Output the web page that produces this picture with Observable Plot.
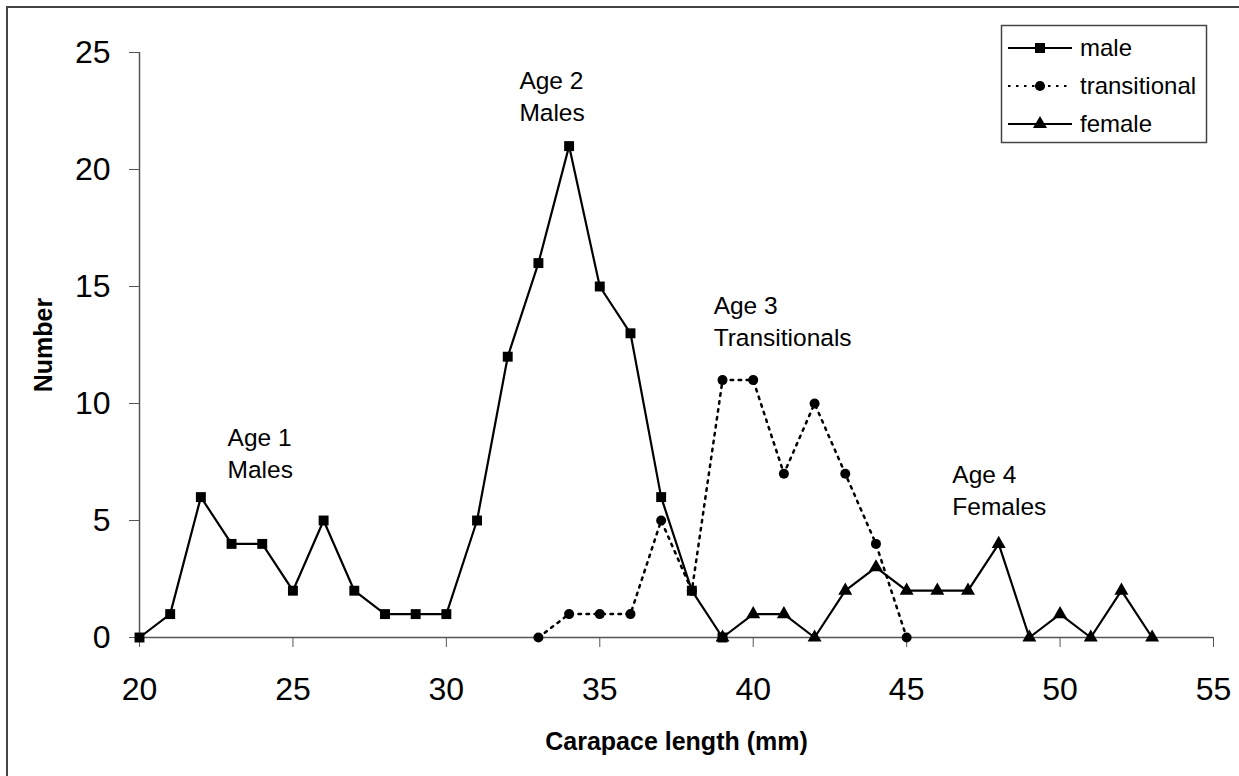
<!DOCTYPE html>
<html>
<head>
<meta charset="utf-8">
<script src="https://cdn.jsdelivr.net/npm/d3@7"></script>
<script src="https://cdn.jsdelivr.net/npm/@observablehq/plot@0.6"></script>
<style>
  html, body { margin: 0; padding: 0; background: #fff; }
  #wrap { position: relative; width: 1239px; height: 776px; overflow: hidden; font-family: "Liberation Sans", Arial, sans-serif; }
  #frameL { position: absolute; left: 6px; top: 6px; width: 2px; height: 770px; background: #444; }
  #frameT { position: absolute; left: 6px; top: 6px; width: 1233px; height: 2px; background: #444; }
  #legend { position: absolute; left: 0; top: 0; }
</style>
</head>
<body>
<div id="wrap"><div id="frameL"></div><div id="frameT"></div></div>
<script>
// ---- data ----
const maleX = [20,21,22,23,24,25,26,27,28,29,30,31,32,33,34,35,36,37,38,39];
const maleY = [0,1,6,4,4,2,5,2,1,1,1,5,12,16,21,15,13,6,2,0];
const transX = [33,34,35,36,37,38,39,40,41,42,43,44,45];
const transY = [0,1,1,1,5,2,11,11,7,10,7,4,0];
const femaleX = [39,40,41,42,43,44,45,46,47,48,49,50,51,52,53];
const femaleY = [0,1,1,0,2,3,2,2,2,4,0,1,0,2,0];
const xTicks = [20,25,30,35,40,45,50,55];
const yTicks = [0,5,10,15,20,25];
const seriesNames = ["male","transitional","female"];
const annotations = [
  {x: 22.87, y: 9.16, text: "Age 1\nMales"},
  {x: 32.38, y: 24.41, text: "Age 2\nMales"},
  {x: 38.71, y: 14.8, text: "Age 3\nTransitionals"},
  {x: 46.49, y: 7.58, text: "Age 4\nFemales"}
];

const male = maleX.map((x,i)=>({x, y: maleY[i]}));
const trans = transX.map((x,i)=>({x, y: transY[i]}));
const female = femaleX.map((x,i)=>({x, y: femaleY[i]}));

const font = "Liberation Sans, Arial, sans-serif";
const axisColor = "#555";

const chart = Plot.plot({
  width: 1239,
  height: 776,
  marginLeft: 139,
  marginRight: 26,
  marginTop: 52,
  marginBottom: 139,
  style: {fontFamily: font, color: "#000", background: "transparent", overflow: "visible"},
  x: {domain: [20,55]},
  y: {domain: [0,25]},
  marks: [
    Plot.ruleX([20], {stroke: axisColor, strokeWidth: 1.5}),
    Plot.ruleY([0], {stroke: axisColor, strokeWidth: 1.5}),
    Plot.axisX({ticks: xTicks, tickSize: 10, tickPadding: 30, fontSize: 32, label: null, stroke: axisColor, fill: "#000"}),
    Plot.axisY({ticks: yTicks, tickSize: 10, tickPadding: 19, fontSize: 32, label: null, stroke: axisColor, fill: "#000"}),
    Plot.text(["Carapace length (mm)"], {frameAnchor: "bottom", dy: 95, lineAnchor: "top", textAnchor: "middle", fontSize: 25, fontWeight: "bold", fill: "#000"}),
    Plot.text(["Number"], {frameAnchor: "left", dx: -96, rotate: -90, textAnchor: "middle", fontSize: 25, fontWeight: "bold", fill: "#000"}),
    Plot.line(trans, {x: "x", y: "y", stroke: "#000", strokeWidth: 2.5, strokeDasharray: "2.5,5.5"}),
    Plot.dot(trans, {x: "x", y: "y", symbol: "circle", r: 5, fill: "#000", stroke: "none"}),
    Plot.line(female, {x: "x", y: "y", stroke: "#000", strokeWidth: 2.2}),
    Plot.dot(female, {x: "x", y: "y", symbol: "triangle", r: 5.2, fill: "#000", stroke: "none"}),
    Plot.line(male, {x: "x", y: "y", stroke: "#000", strokeWidth: 2.2}),
    Plot.dot(male, {x: "x", y: "y", symbol: "square", r: 5.6, fill: "#000", stroke: "none"}),
    Plot.text(annotations, {x: "x", y: "y", text: "text", textAnchor: "start", lineAnchor: "top", lineHeight: 1.3, fontSize: 24.5, fill: "#000"})
  ]
});
document.getElementById("wrap").appendChild(chart);

// ---- legend ----
const leg = d3.select("#wrap").append("svg").attr("id","legend").attr("width",1239).attr("height",776);
leg.append("rect").attr("x",1001.5).attr("y",25.5).attr("width",205).attr("height",117)
  .attr("fill","#fff").attr("stroke","#444").attr("stroke-width",1.5);
const rowsY = [48, 86, 124];
const styles = [
  {dash: null, sym: d3.symbolSquare, size: 100},
  {dash: "2.5,5.5", sym: d3.symbolCircle, size: 80},
  {dash: null, sym: d3.symbolTriangle, size: 85}
];
seriesNames.forEach((name, i) => {
  const y = rowsY[i];
  const ln = leg.append("line").attr("x1",1008).attr("x2",1072).attr("y1",y).attr("y2",y)
    .attr("stroke","#000").attr("stroke-width",2.2);
  if (styles[i].dash) ln.attr("stroke-dasharray", styles[i].dash);
  leg.append("path").attr("d", d3.symbol(styles[i].sym, styles[i].size)())
    .attr("transform", `translate(1040,${y})`).attr("fill","#000");
  leg.append("text").attr("x",1080).attr("y",y).attr("dy","0.35em")
    .attr("font-family",font).attr("font-size",24).attr("fill","#000").text(name);
});
</script>
</body>
</html>
